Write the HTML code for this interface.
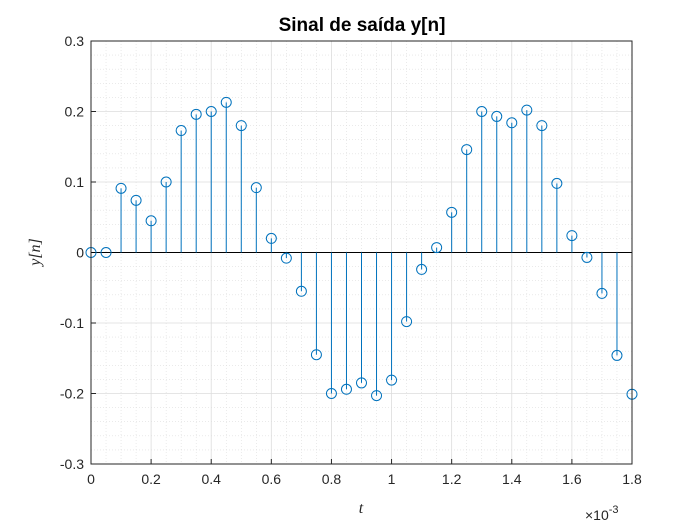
<!DOCTYPE html>
<html><head><meta charset="utf-8"><style>
body{margin:0;background:#fff;}
svg{display:block;font-family:"Liberation Sans",sans-serif;}
</style></head><body>
<svg id="chart" width="700" height="525">
<rect width="700" height="525" fill="#fff"/>
<g id="plot"></g>
<text x="362" y="31" text-anchor="middle" font-size="19" font-weight="bold" fill="#000">Sinal de saída y[n]</text>
<text x="361" y="513" text-anchor="middle" font-size="16" font-style="italic" font-family="Liberation Serif,serif" fill="#262626">t</text>
<text transform="translate(40,252) rotate(-90)" text-anchor="middle" font-size="16" font-style="italic" font-family="Liberation Serif,serif" fill="#262626">y[n]</text>
<text x="585" y="520" font-size="14" fill="#262626">×10<tspan dy="-7" font-size="11">-3</tspan></text>
</svg>
<script>
const tValues=[0,0.05,0.1,0.15,0.2,0.25,0.3,0.35,0.4,0.45,0.5,0.55,0.6,0.65,0.7,0.75,0.8,0.85,0.9,0.95,1.0,1.05,1.1,1.15,1.2,1.25,1.3,1.35,1.4,1.45,1.5,1.55,1.6,1.65,1.7,1.75,1.8];
const yValues=[0,0,0.091,0.074,0.045,0.1,0.173,0.196,0.2,0.213,0.18,0.092,0.02,-0.008,-0.055,-0.145,-0.2,-0.194,-0.185,-0.203,-0.181,-0.098,-0.024,0.007,0.057,0.146,0.2,0.193,0.184,0.202,0.18,0.098,0.024,-0.007,-0.058,-0.146,-0.201];
const xTicks=[0,0.2,0.4,0.6,0.8,1,1.2,1.4,1.6,1.8];
const xTickLabels=["0","0.2","0.4","0.6","0.8","1","1.2","1.4","1.6","1.8"];
const yTicks=[-0.3,-0.2,-0.1,0,0.1,0.2,0.3];
const yTickLabels=["-0.3","-0.2","-0.1","0","0.1","0.2","0.3"];
const L=91,R=632,T=41,B=464,xmin=0,xmax=1.8,ymin=-0.3,ymax=0.3;
const X=v=>L+(v-xmin)/(xmax-xmin)*(R-L);
const Y=v=>B-(v-ymin)/(ymax-ymin)*(B-T);
const g=document.getElementById('plot');
const NS='http://www.w3.org/2000/svg';
function mk(tag,a){const e=document.createElementNS(NS,tag);for(const k in a)e.setAttribute(k,a[k]);g.appendChild(e);return e;}
mk('rect',{x:L,y:T,width:R-L,height:B-T,fill:'#fff'});
for(let i=0;i<=36;i++){const v=i*0.05;if(i%4===0)continue;const e=mk('line',{x1:X(v),x2:X(v),y1:T,y2:B,stroke:'#ddd','stroke-width':0.6,'stroke-dasharray':'1,2'});

}
for(let i=0;i<=30;i++){const v=-0.3+i*0.02;if(i%5===0)continue;const e=mk('line',{x1:L,x2:R,y1:Y(v),y2:Y(v),stroke:'#ddd','stroke-width':0.6,'stroke-dasharray':'1,2'});

}
xTicks.forEach((v,i)=>{const e=mk('line',{x1:X(v),x2:X(v),y1:T,y2:B,stroke:'#dcdcdc','stroke-width':0.8});


const tk=mk('line',{x1:X(v),x2:X(v),y1:B,y2:B-5,stroke:'#262626'});


const t=mk('text',{x:X(v),y:B+20,'text-anchor':'middle','font-size':14,fill:'#262626'});t.textContent=xTickLabels[i];

});
yTicks.forEach((v,i)=>{const e=mk('line',{x1:L,x2:R,y1:Y(v),y2:Y(v),stroke:'#dcdcdc','stroke-width':0.8});


const tk=mk('line',{x1:L,x2:L+5,y1:Y(v),y2:Y(v),stroke:'#262626'});


const t=mk('text',{x:L-7,y:Y(v)+5,'text-anchor':'end','font-size':14,fill:'#262626'});t.textContent=yTickLabels[i];

});
const base=mk('line',{x1:L,x2:R,y1:Y(0),y2:Y(0),stroke:'#000','stroke-width':1});


tValues.forEach((t,i)=>{const x=X(t),y=Y(yValues[i]);
const s=mk('line',{x1:x,x2:x,y1:Y(0),y2:y,stroke:'#0072bd','stroke-width':1});


const c=mk('circle',{cx:x,cy:y,r:5,fill:'none',stroke:'#0072bd','stroke-width':1});

});
const box=mk('rect',{x:L,y:T,width:R-L,height:B-T,fill:'none',stroke:'#262626','stroke-width':1});


</script>
</body></html>
